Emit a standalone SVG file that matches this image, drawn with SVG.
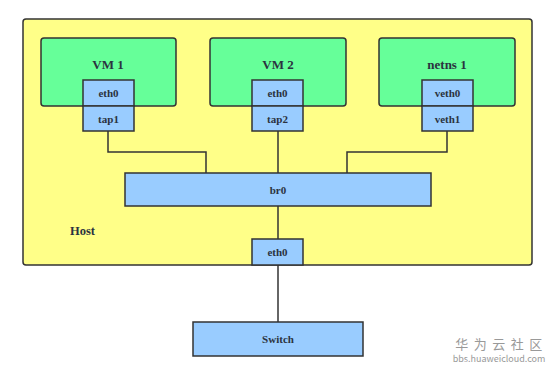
<svg xmlns="http://www.w3.org/2000/svg" width="554" height="372" viewBox="0 0 554 372">
<style>
.host{fill:#ffff88;stroke:#333;stroke-width:1.5}
.vm{fill:#66ff99;stroke:#333;stroke-width:1.5}
.if{fill:#99ccff;stroke:#333;stroke-width:1.5}
.t{font-family:"Liberation Serif",serif;font-weight:bold;fill:#2b3340;text-anchor:middle;dominant-baseline:central}
.s{font-size:11px}
.l{font-size:13px}
.w{fill:none;stroke:#333;stroke-width:1.5}
.wm{font-family:"Noto Sans CJK SC",sans-serif;fill:#999;text-anchor:middle}
</style>
<rect width="554" height="372" fill="#fff"/>
<g id="host">
<rect class="host" x="23" y="19" width="509" height="246" rx="3"/>
<text class="t" x="82.5" y="231" font-size="12.5" fill="#333">Host</text>
</g>
<g id="vm1">
<rect class="vm" x="41" y="38" width="135" height="68" rx="3"/>
<text class="t l" x="108" y="64">VM 1</text>
</g>
<g id="vm2">
<rect class="vm" x="210" y="38" width="136" height="68" rx="3"/>
<text class="t l" x="278" y="64">VM 2</text>
</g>
<g id="netns1">
<rect class="vm" x="379" y="38" width="136" height="68" rx="3"/>
<text class="t l" x="447" y="64">netns 1</text>
</g>
<g id="connectors">
<path class="w" d="M108 131V152H206V173"/>
<path class="w" d="M278 131V173"/>
<path class="w" d="M447 131V152H347V173"/>
<path class="w" d="M278 206V239"/>
<path class="w" d="M278 265V322"/>
</g>
<g id="vm1-eth0"><rect class="if" x="83" y="80" width="51" height="26"/><text class="t s" x="108.5" y="93">eth0</text></g>
<g id="tap1"><rect class="if" x="83" y="106" width="51" height="25"/><text class="t s" x="108.5" y="118.5">tap1</text></g>
<g id="vm2-eth0"><rect class="if" x="252" y="80" width="51" height="26"/><text class="t s" x="277.5" y="93">eth0</text></g>
<g id="tap2"><rect class="if" x="252" y="106" width="51" height="25"/><text class="t s" x="277.5" y="118.5">tap2</text></g>
<g id="veth0"><rect class="if" x="422" y="80" width="51" height="26"/><text class="t s" x="447.5" y="93">veth0</text></g>
<g id="veth1"><rect class="if" x="422" y="106" width="51" height="25"/><text class="t s" x="447.5" y="118.5">veth1</text></g>
<g id="br0"><rect class="if" x="125" y="173" width="306" height="33"/><text class="t s" x="278" y="189.5">br0</text></g>
<g id="host-eth0"><rect class="if" x="252" y="239" width="51" height="26"/><text class="t s" x="277.5" y="252">eth0</text></g>
<g id="switch"><rect class="if" x="193" y="322" width="170" height="34"/><text class="t s" x="278" y="339">Switch</text></g>
<g id="watermark">
<text class="wm" x="501.5" y="349" font-size="13" letter-spacing="5.5">华为云社区</text>
<text class="wm" x="499" y="362" font-size="9" font-family="Liberation Sans,sans-serif">bbs.huaweicloud.com</text>
</g>
</svg>
